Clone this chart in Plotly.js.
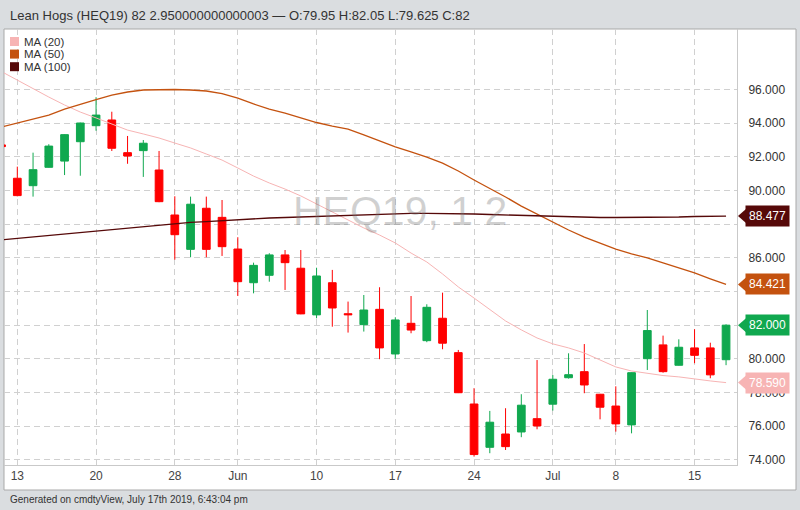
<!DOCTYPE html>
<html>
<head>
<meta charset="utf-8">
<script src="https://cdn.plot.ly/plotly-3.0.1.min.js"></script>
<style>html,body{margin:0;padding:0;background:#dadde0;}#chart{width:800px;height:510px;}</style>
</head>
<body>
<div id="chart"></div>
<script>
// ---- data ----
const dates = ['2019-05-10','2019-05-13','2019-05-14','2019-05-15','2019-05-16','2019-05-17','2019-05-20','2019-05-21','2019-05-22','2019-05-23','2019-05-24','2019-05-28','2019-05-29','2019-05-30','2019-05-31','2019-06-03','2019-06-04','2019-06-05','2019-06-06','2019-06-07','2019-06-10','2019-06-11','2019-06-12','2019-06-13','2019-06-14','2019-06-17','2019-06-18','2019-06-19','2019-06-20','2019-06-21','2019-06-24','2019-06-25','2019-06-26','2019-06-27','2019-06-28','2019-07-01','2019-07-02','2019-07-03','2019-07-05','2019-07-08','2019-07-09','2019-07-10','2019-07-11','2019-07-12','2019-07-15','2019-07-16','2019-07-17'];
const openP  = [92.70,90.72,90.28,91.37,91.74,92.89,93.84,94.18,92.24,92.36,91.21,88.54,86.50,88.94,88.40,86.52,84.52,84.96,86.17,85.38,82.61,84.52,82.68,82.03,82.94,80.29,82.11,81.08,82.41,80.37,77.32,74.75,75.54,75.66,76.45,77.31,78.88,79.24,77.90,77.20,76.08,80.01,80.83,79.62,80.65,80.65,79.95];
const highP  = [92.95,91.41,92.24,92.74,93.33,94.02,95.53,94.67,93.23,92.99,92.34,89.65,89.63,89.63,89.43,87.22,85.71,86.27,86.46,86.46,85.41,85.28,83.40,83.79,84.25,82.47,83.73,83.24,83.93,80.53,78.26,76.91,77.07,77.90,79.93,79.04,80.33,80.88,77.92,78.37,79.20,82.90,81.38,81.16,81.76,80.96,82.05];
const lowP   = [92.35,89.65,89.63,91.35,90.91,90.87,93.54,92.34,91.58,90.80,89.30,85.89,86.03,86.03,86.11,83.73,83.89,84.58,84.09,82.65,82.41,81.91,81.56,81.62,79.98,80.01,81.52,80.99,80.57,77.97,74.20,74.40,74.59,75.35,75.82,76.93,78.83,77.96,76.41,75.68,75.58,79.34,79.18,79.60,79.74,78.85,79.625];
const closeP = [92.60,89.69,91.23,92.63,93.31,94.00,94.47,92.50,92.04,92.80,89.33,87.37,89.18,86.50,86.66,84.58,85.55,86.17,85.71,82.67,84.92,83.02,82.62,82.90,80.65,82.31,81.71,83.06,80.93,77.99,74.32,76.24,74.79,77.25,76.02,78.79,79.06,78.45,77.13,76.14,79.18,81.68,79.24,80.69,80.21,79.05,82.00];
const ma20  = [97.05,96.55,96.02,95.54,95.07,94.65,94.30,93.94,93.58,93.35,93.11,92.81,92.52,92.16,91.80,91.33,90.85,90.44,90.08,89.67,89.19,88.72,88.25,87.77,87.35,86.88,86.28,85.75,85.04,84.27,83.61,82.91,82.25,81.72,81.24,80.89,80.65,80.35,79.94,79.52,79.28,79.13,79.01,78.93,78.80,78.69,78.59];
const ma50  = [93.76,94.00,94.21,94.47,94.83,95.13,95.39,95.66,95.84,95.96,95.99,95.99,95.96,95.90,95.75,95.48,95.13,94.83,94.59,94.30,94.03,93.82,93.64,93.29,92.93,92.58,92.28,91.98,91.62,91.15,90.62,90.14,89.61,89.07,88.60,88.12,87.65,87.23,86.88,86.52,86.23,85.99,85.70,85.40,85.10,84.75,84.421];
const ma100 = [87.06,87.15,87.23,87.32,87.41,87.50,87.59,87.68,87.77,87.86,87.95,88.04,88.10,88.15,88.21,88.27,88.33,88.36,88.39,88.42,88.48,88.51,88.54,88.57,88.60,88.63,88.64,88.64,88.64,88.63,88.60,88.57,88.54,88.51,88.48,88.45,88.42,88.40,88.39,88.39,88.39,88.40,88.40,88.42,88.45,88.48,88.477];
const tickDates = ['2019-05-13','2019-05-20','2019-05-28','2019-06-03','2019-06-10','2019-06-17','2019-06-24','2019-07-01','2019-07-08','2019-07-15'];
const tickLabels = ['13','20','28','Jun','10','17','24','Jul','8','15'];
const yLabelTicks = [74, 76, 78, 80, 86, 90, 92, 94, 96];   // labels not hidden behind value tags
const yGridOnly = [82, 84, 88];                              // gridlines whose labels are covered
const maNames = ['MA (20)','MA (50)','MA (100)'];

// ---- styles ----
const UP = '#10a84f', DOWN = '#ff0000';
const maColors = ['#f7b4b4','#c4520f','#560909'];
const FONT = 'Liberation Sans, Arial, sans-serif';
const GRID = '#d0d0d0', DASH = '6px,4px';

// plot geometry (px) for paper conversions
const W = 800, Hh = 510, L = 4, R = 63, T = 29, B = 45;
const PW = W - L - R, PH = Hh - T - B;
const px = v => (v - L) / PW;
const py = v => 1 - (v - T) / PH;

const maSeries = [ma20, ma50, ma100];
const traces = maSeries.map((s, i) => ({
  type: 'scatter', mode: 'lines', x: dates, y: s, name: maNames[i],
  line: {color: maColors[i], width: i === 0 ? 1 : 1.3},
  hoverinfo: 'skip', showlegend: false
}));
traces.push({
  type: 'candlestick', x: dates, open: openP, high: highP, low: lowP, close: closeP,
  increasing: {line: {color: UP, width: 1}, fillcolor: UP},
  decreasing: {line: {color: DOWN, width: 1}, fillcolor: DOWN},
  whiskerwidth: 0, hoverinfo: 'skip', showlegend: false
});

const shapes = [
  {type: 'rect', xref: 'paper', yref: 'paper', x0: px(4), x1: px(796), y0: py(490), y1: py(29),
   fillcolor: '#ffffff', line: {color: '#a9a9a9', width: 1}, layer: 'below'}
];
const annotations = [];

// legend
maNames.forEach((n, i) => {
  const cy = 41.5 + i * 12.6;
  shapes.push({type: 'rect', xref: 'paper', yref: 'paper', x0: px(10), x1: px(19), y0: py(cy + 4.5), y1: py(cy - 4.5),
    fillcolor: maColors[i], line: {width: 0}});
  annotations.push({xref: 'paper', yref: 'paper', x: px(23), y: py(cy), xanchor: 'left', yanchor: 'middle',
    text: n, showarrow: false, borderpad: 0, font: {family: FONT, size: 11.5, color: '#333'}});
});

// right-side value tags
const lastIdx = dates.length - 1;
const tags = [
  {v: ma100[lastIdx], c: maColors[2]},
  {v: ma50[lastIdx], c: maColors[1]},
  {v: closeP[lastIdx], c: UP},
  {v: ma20[lastIdx], c: maColors[0]}
];
tags.forEach(t => {
  annotations.push({xref: 'paper', yref: 'y', x: 1, y: t.v, xanchor: 'left', yanchor: 'middle', xshift: 8,
    text: t.v.toFixed(3), showarrow: false, bgcolor: t.c, borderpad: 3, width: 37, height: 14,
    font: {family: FONT, size: 12, color: '#ffffff'}});
  shapes.push({type: 'path', xref: 'paper', yref: 'y', xsizemode: 'pixel', ysizemode: 'pixel',
    xanchor: 1, yanchor: t.v, path: 'M 1 0 L 9 7 L 9 -7 Z', fillcolor: t.c, line: {width: 0}});
});

// watermark
annotations.push({xref: 'paper', yref: 'paper', x: px(400), y: py(211), xanchor: 'center', yanchor: 'middle',
  text: 'HEQ19, 1 2', showarrow: false, font: {family: FONT, size: 41, color: 'rgba(120,120,120,0.34)'}});

// footer
annotations.push({xref: 'paper', yref: 'paper', x: px(8), y: py(499.5), xanchor: 'left', yanchor: 'middle',
  text: 'Generated on cmdtyView, July 17th 2019, 6:43:04 pm', showarrow: false,
  font: {family: FONT, size: 10, color: '#333'}});

const layout = {
  width: W, height: Hh,
  margin: {l: L, r: R, t: T, b: B, pad: 0},
  paper_bgcolor: '#dadde0', plot_bgcolor: '#ffffff',
  showlegend: false, hovermode: false,
  title: {text: 'Lean Hogs (HEQ19) 82 2.950000000000003 — O:79.95 H:82.05 L:79.625 C:82',
    x: 10 / W, xanchor: 'left', xref: 'container', y: 1 - 15 / Hh, yanchor: 'middle', yref: 'container',
    font: {family: FONT, size: 13, color: '#333'}},
  xaxis: {
    type: 'category', categoryorder: 'array', categoryarray: dates,
    range: [(L - 17.3) / 15.75 + 1, (W - R - 17.3) / 15.75 + 1],
    tickmode: 'array', tickvals: tickDates, ticktext: tickLabels,
    showgrid: true, gridcolor: GRID, griddash: DASH, gridwidth: 1,
    showline: true, linecolor: '#c9c9c9', linewidth: 1, ticks: '', zeroline: false,
    tickfont: {family: FONT, size: 12, color: '#444'},
    rangeslider: {visible: false}, fixedrange: true
  },
  yaxis: {
    side: 'right', range: [73.70, 99.58], tickmode: 'array', tickvals: yLabelTicks, tickformat: '.3f',
    showgrid: true, gridcolor: GRID, griddash: DASH, gridwidth: 1,
    minor: {tickmode: 'array', tickvals: yGridOnly, showgrid: true, gridcolor: GRID, griddash: DASH, gridwidth: 1, ticks: ''},
    showline: true, linecolor: '#c9c9c9', linewidth: 1, ticks: '', zeroline: false,
    ticklabelstandoff: 8,
    tickfont: {family: FONT, size: 12, color: '#333'}, fixedrange: true
  },
  shapes: shapes, annotations: annotations
};

Plotly.newPlot('chart', traces, layout, {displayModeBar: false, staticPlot: true});
</script>
</body>
</html>
